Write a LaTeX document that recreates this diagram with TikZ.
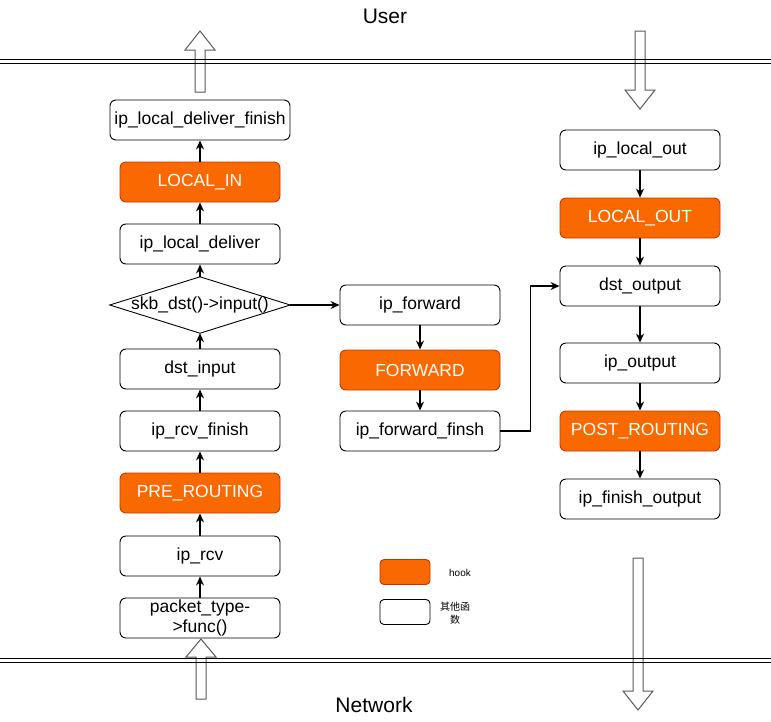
\documentclass[tikz,border=0pt]{standalone}
\usepackage{fontspec}
\setmainfont{Liberation Sans}
\newfontfamily\cjk{Noto Sans CJK SC}
\usetikzlibrary{arrows.meta}
\definecolor{hookorange}{HTML}{FA6800}
\definecolor{hookedge}{HTML}{C73500}

\begin{document}
\begin{tikzpicture}[x=1pt,y=-1pt,
    func/.style={draw, line width=0.9pt, rounded corners=6pt, minimum width=160pt, minimum height=40pt,
      inner sep=0pt, font=\fontsize{17.5}{20}\selectfont},
    hook/.style={func, fill=hookorange, draw=hookedge, text=white},
    flow/.style={-{Stealth[length=9pt,width=8pt]}, line width=1.3pt},
    bigarrow/.style={draw=black!65, line width=1pt}]
        \useasboundingbox (0,0) rectangle (771,721);
        % draw the big hollow arrows
        \draw[bigarrow] (195,92) -- (195,50) -- (185,50) -- (200,31) -- (215,50) -- (205,50) -- (205,92) -- cycle;
        \draw[bigarrow] (635,31) -- (635,90) -- (625,90) -- (640,109) -- (655,90) -- (645,90) -- (645,31) -- cycle;
        \draw[bigarrow] (196,699) -- (196,657) -- (186,657) -- (201,639) -- (216,657) -- (206,657) -- (206,699) -- cycle;
        \draw[bigarrow] (633,558) -- (633,691) -- (623,691) -- (638,710) -- (653,691) -- (643,691) -- (643,558) -- cycle;
        % draw the double lines
        \foreach \y in {59,63,658,662}
        \draw[line width=1pt] (0,\y) -- (771,\y);
        \node[font=\fontsize{21}{25}\selectfont] (user) at (385,16) {User};
        \node[font=\fontsize{21}{25}\selectfont] (network) at (374,705) {Network};
        % draw the receive path
        \node[func, minimum width=180pt] (lfinish) at (200,120) {ip\_local\_deliver\_finish};
        \node[hook] (localin) at (200,182) {LOCAL\_IN};
        \node[func] (ldeliver) at (200,244) {ip\_local\_deliver};
        \node[minimum width=180pt, minimum height=56pt, inner sep=0pt, font=\fontsize{17.5}{20}\selectfont] (sel) at (200,305) {skb\_dst()->input()};
        \draw[line width=0.9pt] (sel.west) -- (sel.north) -- (sel.east) -- (sel.south) -- cycle;
        \node[func] (dstin) at (200,369) {dst\_input};
        \node[func] (rcvfinish) at (200,431) {ip\_rcv\_finish};
        \node[hook] (prerouting) at (200,493) {PRE\_ROUTING};
        \node[func] (rcv) at (200,556) {ip\_rcv};
        \node[func, align=center] (ptype) at (200,618) {packet\_type-\\>func()};
        % draw the forward path
        \node[func] (fwd) at (420,305) {ip\_forward};
        \node[hook] (forward) at (420,370) {FORWARD};
        \node[func] (fwdfinish) at (420,431) {ip\_forward\_finsh};
        % draw the send path
        \node[func] (lout) at (640,150) {ip\_local\_out};
        \node[hook] (localout) at (640,218) {LOCAL\_OUT};
        \node[func] (dstout) at (640,286) {dst\_output};
        \node[func] (ipout) at (640,363) {ip\_output};
        \node[hook] (postrouting) at (640,431) {POST\_ROUTING};
        \node[func] (finishout) at (640,499) {ip\_finish\_output};
        % draw the connectors
        \draw[flow] (ptype) -- (rcv);
        \draw[flow] (rcv) -- (prerouting);
        \draw[flow] (prerouting) -- (rcvfinish);
        \draw[flow] (rcvfinish) -- (dstin);
        \draw[flow] (dstin) -- (sel.south);
        \draw[flow] (sel.north) -- (ldeliver);
        \draw[flow] (ldeliver) -- (localin);
        \draw[flow] (localin) -- (lfinish);
        \draw[flow] (sel.east) -- (fwd);
        \draw[flow] (fwd) -- (forward);
        \draw[flow] (forward) -- (fwdfinish);
        \draw[flow] (fwdfinish.east) -- ++(30,0) |- (dstout.west);
        \draw[flow] (lout) -- (localout);
        \draw[flow] (localout) -- (dstout);
        \draw[flow] (dstout) -- (ipout);
        \draw[flow] (ipout) -- (postrouting);
        \draw[flow] (postrouting) -- (finishout);
        % draw the legend
        \node[hook, minimum width=50pt, minimum height=25pt, rounded corners=4pt] (keyhook) at (405,572) {};
        \node[font=\fontsize{10}{12}\selectfont] (hooklabel) at (460,573) {hook};
        \node[func, minimum width=50pt, minimum height=25pt, rounded corners=4pt] (keyfunc) at (405,612) {};
        \node[font=\fontsize{10}{13}\selectfont, align=center] (funclabel) at (455,613) {\cjk 其他函\\\cjk 数};

    \end{tikzpicture}
\end{document}
